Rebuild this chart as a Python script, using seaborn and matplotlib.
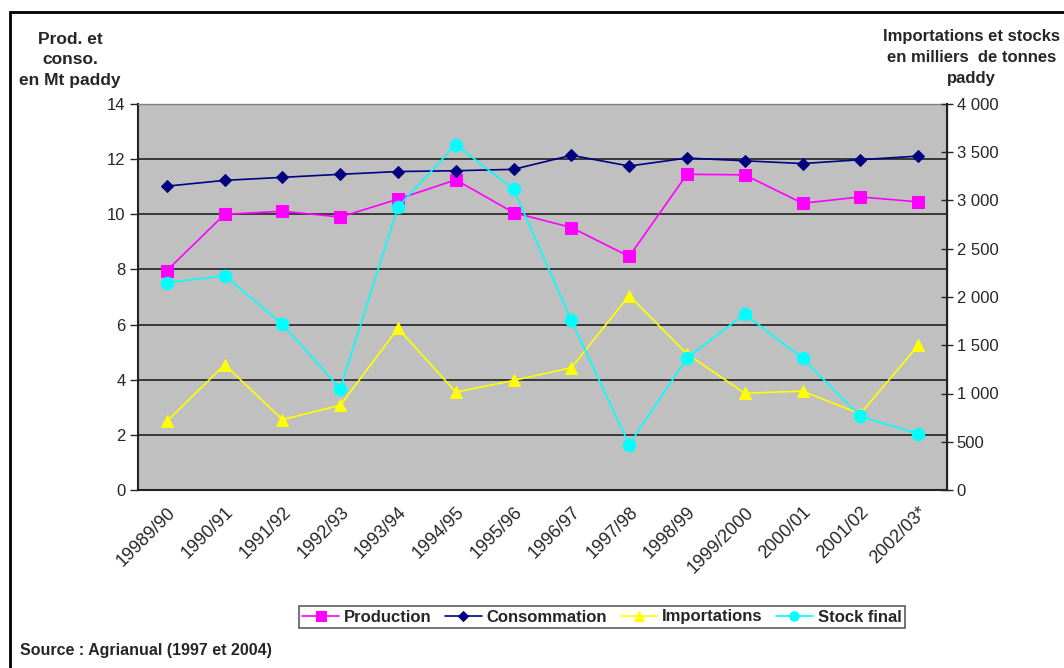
"""
Riz : production, consommation, importations et stock final (1989/90 - 2002/03).
Double axe : Mt paddy à gauche, milliers de tonnes à droite.
"""

import numpy as np
import pandas as pd
import matplotlib.pyplot as plt
from matplotlib.patches import Rectangle
from matplotlib.ticker import FuncFormatter
import seaborn as sns

sns.set_style("white")
plt.rcParams["font.family"] = ["Liberation Sans", "DejaVu Sans"]

# Data
seasons = ["19989/90", "1990/91", "1991/92", "1992/93", "1993/94", "1994/95", "1995/96",
           "1996/97", "1997/98", "1998/99", "1999/2000", "2000/01", "2001/02", "2002/03*"]
production = [7.96, 10.0, 10.11, 9.9, 10.55, 11.25, 10.06, 9.52, 8.47, 11.45, 11.43, 10.4, 10.63, 10.45]
consommation = [11.02, 11.23, 11.34, 11.45, 11.55, 11.58, 11.63, 12.14, 11.75, 12.04, 11.94, 11.84, 11.98, 12.11]
importations = [712, 1298, 730, 878, 1675, 1014, 1135, 1267, 2015, 1410, 1003, 1024, 789, 1498]
stock_final = [2148, 2221, 1717, 1049, 2935, 3578, 3116, 1758, 470, 1367, 1824, 1363, 764, 581]

df = pd.DataFrame({"pos": np.arange(len(seasons)), "saison": seasons,
                   "Production": production, "Consommation": consommation,
                   "Importations": importations, "Stock final": stock_final})

fig = plt.figure(figsize=(10.64, 6.68), dpi=100)
ax = fig.add_axes([138 / 1064, 1 - 490 / 668, (947 - 138) / 1064, (490 - 104) / 668])
ax2 = ax.twinx()

ax.set_facecolor("#C0C0C0")
ax.set_zorder(0)
ax2.set_zorder(1)
ax2.patch.set_visible(False)

# left axis series
sns.lineplot(data=df, x="pos", y="Production", ax=ax, color="#FF00FF", marker="s",
             markersize=9, markeredgecolor="#FF00FF", linewidth=1.2, label="Production", legend=False)
sns.lineplot(data=df, x="pos", y="Consommation", ax=ax, color="#000080", marker="D",
             markersize=6.5, markeredgecolor="#000080", linewidth=1.2, label="Consommation", legend=False)
# right axis series
sns.lineplot(data=df, x="pos", y="Importations", ax=ax2, color="#FFFF00", marker="^",
             markersize=9, markeredgecolor="#FFFF00", linewidth=1.2, label="Importations", legend=False)
sns.lineplot(data=df, x="pos", y="Stock final", ax=ax2, color="#00FFFF", marker="o",
             markersize=9, markeredgecolor="#00FFFF", linewidth=1.2, label="Stock final", legend=False)

# axes limits and ticks
ax.set_xlim(-0.5, len(seasons) - 0.5)
ax.set_ylim(0, 14)
ax.set_yticks(np.arange(0, 15, 2))
ax2.set_ylim(0, 4000)
ax2.set_yticks(np.arange(0, 4001, 500))
ax2.yaxis.set_major_formatter(FuncFormatter(lambda v, p: f"{int(v):,}".replace(",", " ")))

ax.set_xticks(np.arange(-0.5, len(seasons), 1.0))
ax.set_xticklabels([])
ax.set_xticks(np.arange(len(seasons)), minor=True)
ax.set_xticklabels(seasons, minor=True, rotation=45, ha="right", va="top",
                   rotation_mode="anchor", fontsize=13)
ax.tick_params(axis="x", which="minor", length=0, pad=10)
ax.tick_params(axis="x", which="major", direction="out", length=6, width=1, color="black")
ax.tick_params(axis="y", direction="out", length=6, width=1, labelsize=12, pad=3)
ax2.tick_params(axis="y", direction="inout", length=8, width=1, labelsize=12, pad=3)

ax.set_xlabel("")
ax.set_ylabel("")
ax2.set_ylabel("")

ax.yaxis.grid(True, color="#222222", linewidth=1.2)
ax.set_axisbelow(True)

for name, sp in ax.spines.items():
    sp.set_color("#222222" if name in ("left", "bottom") else "#808080")
    sp.set_linewidth(1.5 if name in ("left", "bottom") else 1)
for name, sp in ax2.spines.items():
    sp.set_visible(name == "right")
ax2.spines["right"].set_color("#222222")
ax2.spines["right"].set_linewidth(1.5)

# axis titles
fig.text(70 / 1064, 1 - 60 / 668, "Prod. et\nconso.\nen Mt paddy", ha="center", va="center",
         fontsize=12.5, fontweight="bold", linespacing=1.5)
fig.text(1060 / 1064, 1 - 58 / 668, "Importations et stocks\nen milliers  de tonnes\npaddy",
         ha="right", va="center", multialignment="center", fontsize=12, fontweight="bold",
         linespacing=1.5)

# legend
handles = ax.get_lines()[:2] + ax2.get_lines()[:2]
labels = ["Production", "Consommation", "Importations", "Stock final"]
leg = fig.legend(handles, labels, loc="center", bbox_to_anchor=(602 / 1064, 1 - 617 / 668),
                 ncol=4, frameon=True, fancybox=False, shadow=False,
                 prop={"weight": "bold", "size": 12}, handlelength=2.2, handletextpad=0.3,
                 columnspacing=0.8, borderpad=0.2, borderaxespad=0, markerscale=0.75)
leg.get_frame().set_edgecolor("#333333")
leg.get_frame().set_linewidth(1.2)

fig.text(20 / 1064, 1 - 651 / 668, "Source : Agrianual (1997 et 2004)", ha="left", va="center",
         fontsize=11.5, fontweight="bold")

# outer frame
fig.patches.append(Rectangle((9.5 / 1064, -0.1), 1.2, 1.1 - 12 / 668, transform=fig.transFigure,
                             fill=False, edgecolor="black", linewidth=2))

plt.savefig("out.png", dpi=100)
